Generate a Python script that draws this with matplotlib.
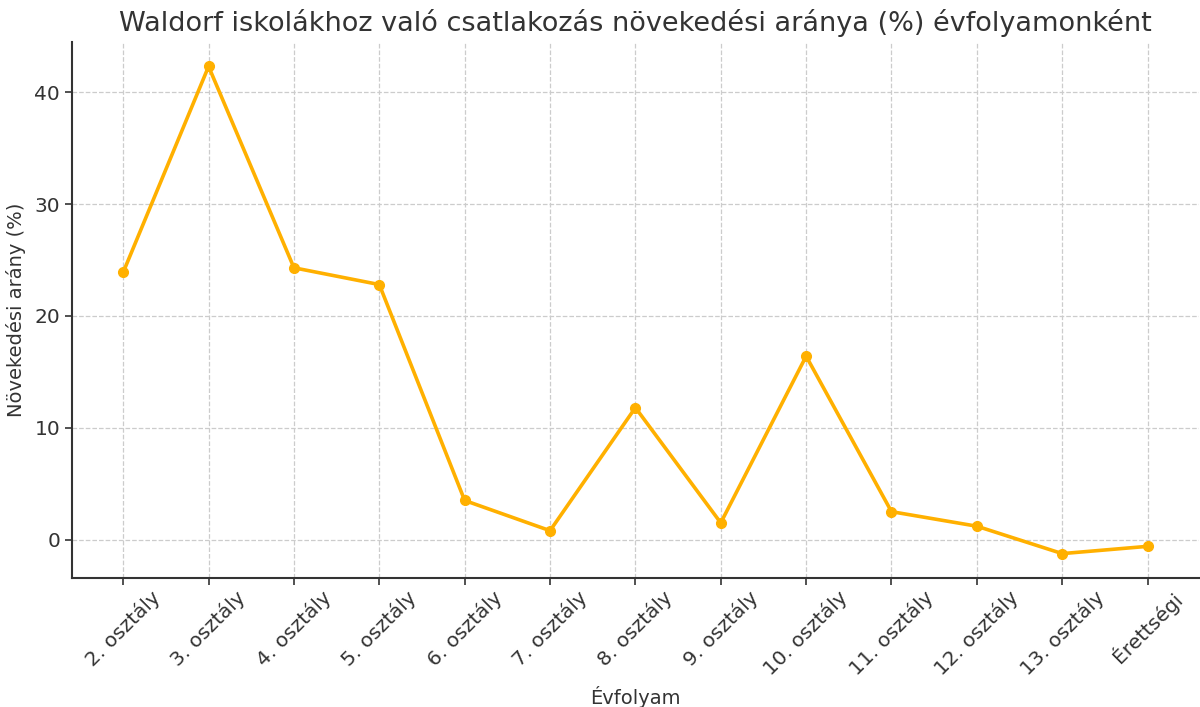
import matplotlib
matplotlib.use("Agg")
import matplotlib.pyplot as plt

# Évfolyamok és növekedési arányok (%)
grades = ["2. osztály", "3. osztály", "4. osztály", "5. osztály", "6. osztály",
          "7. osztály", "8. osztály", "9. osztály", "10. osztály", "11. osztály",
          "12. osztály", "13. osztály", "Érettségi"]
growth = [23.9, 42.3, 24.3, 22.8, 3.5, 0.8, 11.8, 1.5, 16.4, 2.5, 1.2, -1.25, -0.6]

text_color = "#333333"
plt.rcParams["text.color"] = text_color
plt.rcParams["axes.labelcolor"] = text_color
plt.rcParams["xtick.color"] = text_color
plt.rcParams["ytick.color"] = text_color

fig = plt.figure(figsize=(12, 7.07), dpi=100)
ax = fig.add_axes([0.06, 0.1825, 0.939, 0.758])

ax.plot(range(len(grades)), growth, color="#FFB000", linewidth=2.6,
        marker="o", markersize=7)

ax.set_xticks(range(len(grades)))
ax.set_xticklabels(grades, rotation=45)
ax.tick_params(axis="both", labelsize=14.5, length=5, width=1.2)
ax.tick_params(axis="x", pad=2)
ax.set_yticks([0, 10, 20, 30, 40])

ax.set_title("Waldorf iskolákhoz való csatlakozás növekedési aránya (%) évfolyamonként",
             fontsize=19.5, pad=8)
ax.set_xlabel("Évfolyam", fontsize=14, labelpad=5)
ax.set_ylabel("Növekedési arány (%)", fontsize=14, labelpad=6)

ax.grid(True, linestyle="--", color="#cccccc", linewidth=0.9)
ax.spines["top"].set_visible(False)
ax.spines["right"].set_visible(False)
ax.spines["left"].set_color(text_color)
ax.spines["bottom"].set_color(text_color)
ax.spines["left"].set_linewidth(1.5)
ax.spines["bottom"].set_linewidth(1.5)

fig.savefig("out.png", dpi=100)
